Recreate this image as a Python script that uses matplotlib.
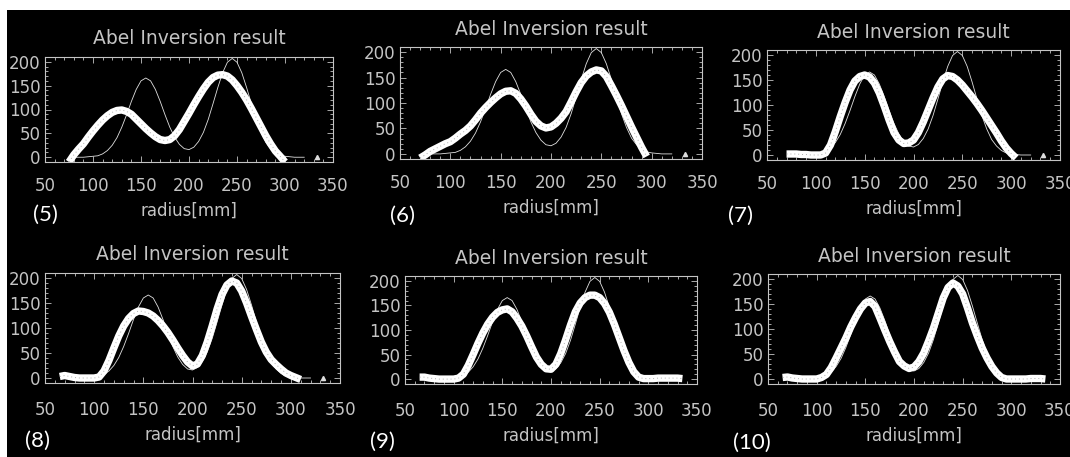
import numpy as np
import matplotlib
matplotlib.use('Agg')
import matplotlib.pyplot as plt
from matplotlib.patches import Rectangle

# radius grid [mm], values every 5 mm
radius = np.arange(60, 341, 5)
nan = np.nan

# thin curve (true profile), the same in every panel
true_profile = [nan, nan, nan, nan, 0, 0, 0, 1, 2, 3, 7, 14, 25, 41, 63, 89, 117, 142, 160,
                166, 160, 142, 117, 89, 63, 42, 27, 18, 16, 21, 33, 52, 79, 112, 146, 177,
                199, 207, 199, 177, 146, 112, 79, 52, 31, 18, 9, 4, 2, 1, 0, 0, 0, nan, nan,
                nan, nan]

# thick curves (Abel inversion result) for cases (5) .. (10)
res_5 = [nan, nan, nan, -10, 5, 17, 28, 42, 55, 67, 78, 87, 94, 98, 99, 96, 90, 80, 70,
         60, 51, 43, 37, 35, 37, 45, 58, 75, 92, 110, 127, 143, 157, 167, 172, 173, 170,
         162, 150, 136, 120, 102, 83, 64, 45, 28, 13, 2, -10, nan, nan, nan, nan, nan,
         nan, nan, nan]
res_6 = [nan, nan, -8, -2, 5, 10, 15, 20, 24, 31, 39, 46, 55, 67, 80, 91, 101, 110, 118,
         123, 124, 119, 108, 94, 78, 64, 55, 51, 53, 60, 70, 83, 102, 122, 140, 153, 161,
         165, 163, 152, 134, 115, 95, 74, 53, 33, 13, -5, nan, nan, nan, nan, nan, nan,
         nan, nan, nan]
res_7 = [nan, nan, 2, 2, 2, 1, 1, 0, 0, 0, 4, 20, 47, 77, 105, 130, 148, 157, 160, 156,
         144, 124, 98, 70, 45, 30, 23, 24, 30, 45, 66, 90, 114, 136, 152, 159, 157, 150,
         140, 128, 116, 103, 89, 74, 59, 44, 28, 14, 3, -6, nan, nan, nan, nan, nan, nan,
         nan]
res_8 = [nan, 3, 5, 3, 1, 0, 0, 0, 0, 2, 14, 35, 60, 84, 104, 119, 129, 134, 133, 130,
         124, 115, 104, 91, 76, 60, 45, 32, 24, 28, 45, 72, 104, 138, 167, 186, 194, 190,
         174, 150, 123, 97, 72, 52, 37, 27, 18, 10, 5, 1, -3, nan, nan, nan, nan, nan, nan]
res_9 = [nan, 4, 4, 2, 1, 0, 0, 0, 0, 2, 10, 28, 50, 73, 94, 112, 126, 136, 141, 143,
         137, 124, 108, 88, 66, 45, 30, 21, 20, 30, 52, 80, 110, 137, 155, 166, 171, 171,
         166, 154, 136, 112, 85, 58, 34, 15, 4, 1, 1, 1, 2, 2, 2, 2, 2, 1, nan]
res_10 = [nan, 3, 4, 2, 1, 0, 0, 0, 0, 3, 9, 23, 42, 62, 82, 104, 123, 140, 152, 155,
          145, 122, 98, 75, 54, 35, 26, 21, 24, 35, 52, 76, 102, 132, 162, 183, 192, 186,
          170, 142, 112, 86, 62, 42, 25, 12, 3, 0, 0, 0, 0, 0, 1, 1, 1, 0, nan]

results = [res_5, res_6, res_7, res_8, res_9, res_10]
case_labels = ['(5)', '(6)', '(7)', '(8)', '(9)', '(10)']
has_bump = [True, True, True, True, False, False]
bump_x = [333]
bump_y = [0]

x_ticks = [50, 100, 150, 200, 250, 300, 350]
y_ticks = [0, 50, 100, 150, 200]

W, H = 1070, 457
# axes boxes in pixels: left, top, right, bottom
boxes = [(45, 57, 333, 162), (400, 47, 702, 159), (767, 50, 1060, 160),
         (45, 273, 340, 383), (405, 276, 697, 384), (768, 274, 1060, 384)]
label_pos = [(33, 215), (390, 216), (728, 216), (25, 441), (370, 442), (733, 443)]

fg = '#c4c4c4'
fig = plt.figure(figsize=(W / 100, H / 100), dpi=100, facecolor='black')
# white strips along the top and left edges
fig.patches.append(Rectangle((0, 1 - 10 / H), 1, 10 / H, transform=fig.transFigure,
                             facecolor='white', edgecolor='none', zorder=-5))
fig.patches.append(Rectangle((0, 0), 7 / W, 1, transform=fig.transFigure,
                             facecolor='white', edgecolor='none', zorder=-5))

for i, (l, t, r, b) in enumerate(boxes):
    ax = fig.add_axes([l / W, 1 - b / H, (r - l) / W, (b - t) / H])
    ax.set_facecolor('black')
    ax.plot(radius, true_profile, color='#e0e0e0', lw=0.6)
    ax.plot(radius, results[i], color='white', lw=5.3, solid_capstyle='butt')
    ax.plot(radius, results[i], color='#8a8a8a', lw=0.7, ls=(0, (1, 3)), alpha=0.7)
    if has_bump[i]:
        ax.plot(bump_x, bump_y, marker='^', color='#dddddd', ms=3, ls='none')
    ax.set_xlim(50, 350)
    ax.set_ylim(-10, 210)
    ax.set_xticks(x_ticks)
    ax.set_yticks(y_ticks)
    ax.set_xticks(np.arange(50, 351, 10), minor=True)
    ax.set_yticks(np.arange(-10, 211, 10), minor=True)
    ax.tick_params(which='both', direction='in', top=True, right=True, colors=fg, width=0.6)
    ax.tick_params(which='major', length=4, labelsize=12, labelcolor=fg)
    ax.tick_params(which='minor', length=2)
    ax.tick_params(axis='x', pad=11 if i < 3 else 13)
    ax.tick_params(axis='y', pad=3)
    for s in ax.spines.values():
        s.set_color(fg)
        s.set_linewidth(0.8)
    ax.set_title('Abel Inversion result', color=fg, fontsize=13.5, pad=9)
    ax.set_xlabel('radius[mm]', color=fg, fontsize=12, labelpad=5)
    lx, ly = label_pos[i]
    fig.text(lx / W, 1 - ly / H, case_labels[i], color='white', fontsize=16,
             family=['Lato', 'DejaVu Sans'], ha='left', va='center')

fig.savefig('out.png', dpi=100, facecolor=fig.get_facecolor())
